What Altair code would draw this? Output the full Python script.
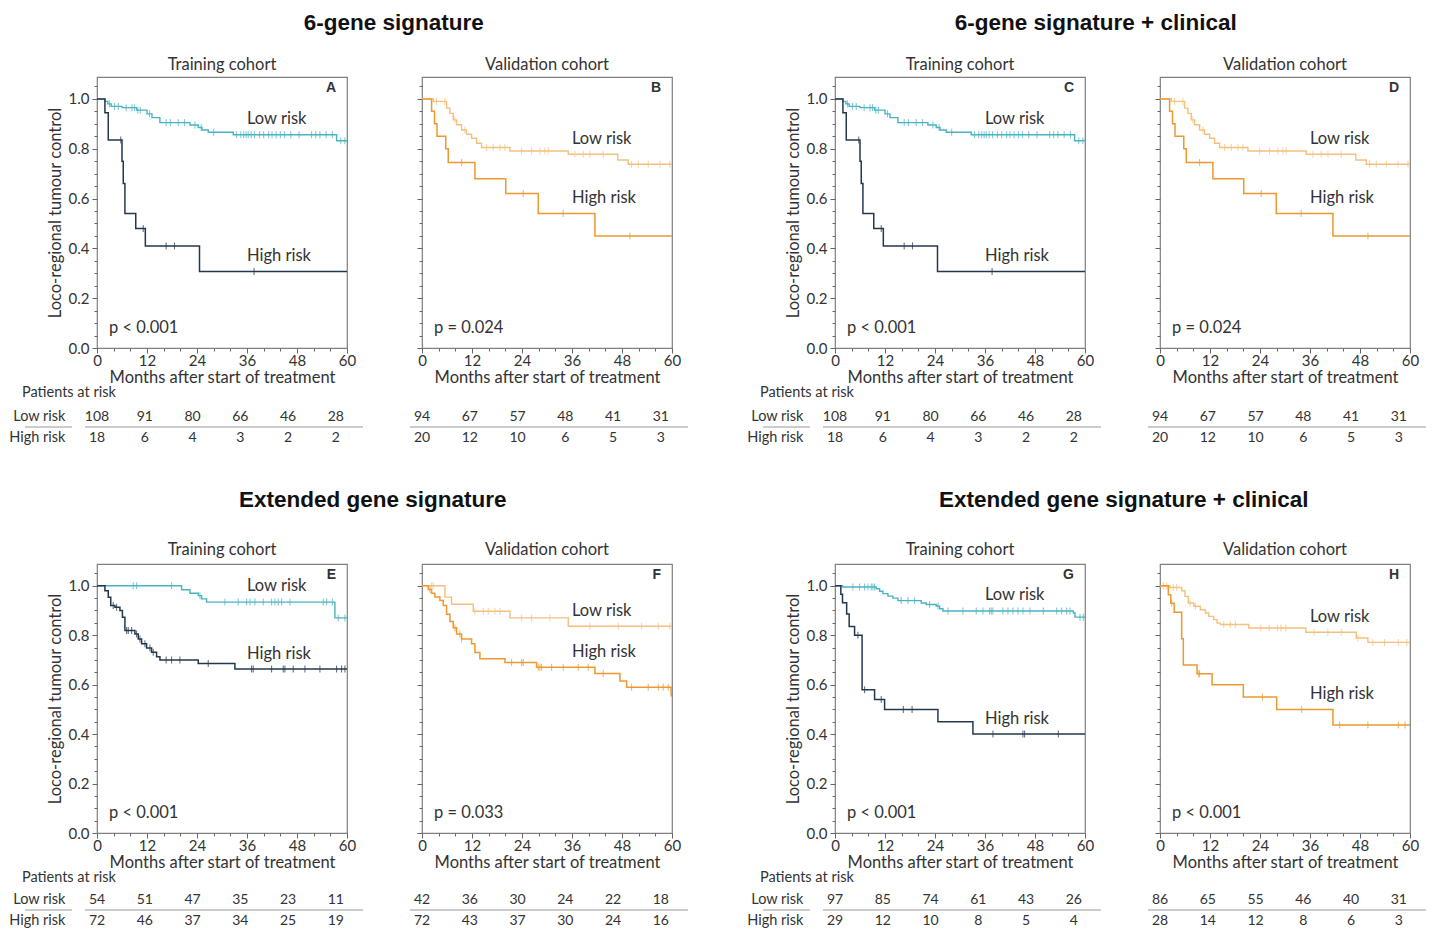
import altair as alt
import pandas as pd

FONT = "Lato"
TITLE_FONT = "Liberation Sans"
TXT = "#333333"
TEAL = "#4ab3c1"
NAVY = "#23384f"
ORANGE = "#eb9930"
LORANGE = "#f4c07e"
TEXT_SIZE = 16.5

# ---------------- data ----------------
RISK_MONTHS = [0, 12, 24, 36, 48, 60]

A_LOW_T = [0, 1.9, 2.6, 3.4, 6.0, 9.5, 12.0, 13.2, 15.1, 22.3, 24.3, 25.2, 26.7, 32.7, 57.5, 60]
A_LOW_S = [1.0, 0.99, 0.98, 0.97, 0.965, 0.955, 0.94, 0.925, 0.905, 0.895, 0.885, 0.875, 0.866, 0.856, 0.832, 0.832]
A_LOW_C = [3.0, 4.2, 5.1, 7.0, 8.4, 9.0, 9.8, 10.4, 12.6, 16.6, 17.6, 19.5, 21.0, 23.5, 25.0, 28.0, 33.5, 34.5,
           35.2, 35.8, 36.3, 37.0, 37.8, 39.0, 40.0, 41.2, 42.0, 43.0, 44.0, 45.0, 46.5, 48.5, 51.5, 52.5, 53.5,
           55.0, 56.5, 58.5, 59.5]
A_HIGH_T = [0, 1.9, 2.7, 6.0, 6.3, 6.7, 9.3, 11.6, 24.6, 60]
A_HIGH_S = [1.0, 0.944, 0.835, 0.75, 0.66, 0.54, 0.48, 0.41, 0.307, 0.307]
A_HIGH_C = [5.7, 11.1, 16.6, 18.6, 37.7]

B_LOW_T = [0, 2.7, 5.9, 6.7, 7.5, 8.3, 9.5, 10.7, 11.9, 13.1, 14.3, 21.1, 35.1, 47.0, 49.5, 60]
B_LOW_S = [1.0, 0.99, 0.963, 0.942, 0.916, 0.896, 0.875, 0.858, 0.842, 0.822, 0.805, 0.791, 0.778, 0.755, 0.738, 0.738]
B_LOW_C = [3.5, 5.5, 7.9, 10.3, 15.5, 17.1, 18.7, 19.9, 23.9, 26.3, 28.3, 29.5, 30.3, 36.7, 38.7, 40.3, 43.5,
           50.3, 51.9, 54.3, 57.1, 59.5]
B_HIGH_T = [0, 2.3, 3.0, 3.6, 5.7, 6.3, 12.7, 20.1, 27.9, 41.5, 60]
B_HIGH_S = [1.0, 0.95, 0.90, 0.85, 0.80, 0.745, 0.68, 0.62, 0.54, 0.45, 0.45]
B_HIGH_C = [9.5, 24.3, 33.9, 49.9]

E_LOW_T = [0, 20.3, 22.3, 24.3, 25.1, 26.3, 57.1, 60]
E_LOW_S = [1.0, 0.984, 0.97, 0.96, 0.947, 0.934, 0.87, 0.87]
E_LOW_C = [8.7, 9.5, 17.9, 24.7, 30.7, 33.9, 35.9, 36.7, 37.9, 39.9, 41.9, 42.7, 43.5, 44.3, 46.3, 54.3, 55.1,
           56.5, 57.9, 59.5]
E_HIGH_T = [0, 1.9, 2.7, 3.3, 4.3, 5.5, 6.1, 6.7, 9.1, 9.9, 10.7, 11.9, 13.1, 14.3, 15.1, 24.3, 33.1, 60]
E_HIGH_S = [1.0, 0.98, 0.954, 0.92, 0.913, 0.90, 0.873, 0.819, 0.805, 0.785, 0.765, 0.748, 0.731, 0.713, 0.70,
            0.686, 0.663, 0.663]
E_HIGH_C = [3.9, 4.7, 7.1, 7.5, 8.3, 9.5, 10.3, 11.5, 12.7, 13.5, 16.6, 17.9, 19.9, 26.7, 37.1, 37.5, 41.9, 44.7,
            45.1, 47.1, 49.9, 53.5, 57.5, 58.7, 59.5]

F_LOW_T = [0, 5.5, 7.1, 12.3, 21.1, 35.1, 60]
F_LOW_S = [1.0, 0.954, 0.925, 0.897, 0.87, 0.836, 0.836]
F_LOW_C = [2.3, 2.7, 12.7, 14.7, 15.9, 17.5, 18.7, 23.9, 26.3, 30.7, 40.3, 47.1, 52.7, 56.7, 59.5]
F_HIGH_T = [0, 1.5, 2.3, 3.1, 4.3, 5.1, 5.9, 6.7, 7.5, 8.3, 9.5, 11.9, 12.7, 13.9, 19.9, 27.5, 41.5, 47.5, 49.1,
            59.8, 60]
F_HIGH_S = [1.0, 0.985, 0.97, 0.955, 0.94, 0.92, 0.885, 0.855, 0.83, 0.805, 0.785, 0.765, 0.73, 0.705, 0.69, 0.67,
            0.645, 0.615, 0.59, 0.555, 0.555]
F_HIGH_C = [1.9, 7.9, 9.1, 9.5, 21.5, 23.9, 24.3, 27.9, 28.3, 28.7, 31.1, 33.9, 37.5, 39.9, 43.5, 50.3, 54.3,
            56.7, 57.9, 59.1]

G_LOW_T = [0, 1.8, 9.9, 10.7, 11.5, 12.7, 13.9, 15.1, 20.7, 21.9, 24.3, 25.1, 25.9, 57.2, 57.6, 60]
G_LOW_S = [1.0, 0.995, 0.988, 0.978, 0.968, 0.958, 0.95, 0.94, 0.93, 0.924, 0.918, 0.907, 0.898, 0.89, 0.873, 0.873]
G_LOW_C = [4.3, 5.9, 7.1, 7.9, 8.7, 9.1, 9.5, 15.9, 17.5, 19.1, 22.7, 24.7, 27.1, 30.7, 33.9, 35.5, 37.1, 37.5,
           37.9, 40.3, 41.5, 42.7, 43.9, 45.1, 46.8, 50.0, 53.2, 54.4, 55.6, 56.4, 58.8, 59.6]
G_HIGH_T = [0, 1.4, 1.8, 2.8, 3.4, 4.7, 6.5, 9.5, 11.9, 24.7, 33.1, 60]
G_HIGH_S = [1.0, 0.966, 0.931, 0.886, 0.835, 0.80, 0.579, 0.54, 0.50, 0.45, 0.40, 0.40]
G_HIGH_C = [5.5, 7.1, 11.1, 16.4, 18.5, 37.9, 45.1, 45.5, 53.6]

H_LOW_T = [0, 2.4, 5.2, 6.0, 6.8, 8.1, 9.7, 10.9, 11.7, 12.9, 13.7, 14.5, 21.3, 35.0, 47.1, 49.9, 60]
H_LOW_S = [1.0, 0.993, 0.98, 0.957, 0.93, 0.917, 0.903, 0.89, 0.876, 0.863, 0.849, 0.843, 0.829, 0.812, 0.789,
           0.771, 0.771]
H_LOW_C = [0.8, 1.6, 3.2, 4.0, 7.2, 8.5, 15.3, 16.9, 18.1, 24.2, 26.2, 28.2, 29.0, 30.2, 37.0, 40.3, 43.5, 47.5,
           51.1, 53.9, 57.2, 59.2]
H_HIGH_T = [0, 2.0, 2.6, 3.4, 5.2, 5.6, 8.9, 12.5, 20.0, 28.0, 41.5, 60]
H_HIGH_S = [1.0, 0.964, 0.929, 0.893, 0.786, 0.68, 0.644, 0.60, 0.55, 0.50, 0.437, 0.437]
H_HIGH_C = [2.8, 9.3, 9.5, 24.6, 34.0, 43.1, 49.9, 57.2, 58.8]

RISK_A_LOW = [108, 91, 80, 66, 46, 28]
RISK_A_HIGH = [18, 6, 4, 3, 2, 2]
RISK_B_LOW = [94, 67, 57, 48, 41, 31]
RISK_B_HIGH = [20, 12, 10, 6, 5, 3]
RISK_E_LOW = [54, 51, 47, 35, 23, 11]
RISK_E_HIGH = [72, 46, 37, 34, 25, 19]
RISK_F_LOW = [42, 36, 30, 24, 22, 18]
RISK_F_HIGH = [72, 43, 37, 30, 24, 16]
RISK_G_LOW = [97, 85, 74, 61, 43, 26]
RISK_G_HIGH = [29, 12, 10, 8, 5, 4]
RISK_H_LOW = [86, 65, 55, 46, 40, 31]
RISK_H_HIGH = [28, 14, 12, 8, 6, 3]

GROUP_TITLES = ["6-gene signature", "6-gene signature + clinical",
                "Extended gene signature", "Extended gene signature + clinical"]
P_VALUES = {"A": "p < 0.001", "B": "p = 0.024", "C": "p < 0.001", "D": "p = 0.024",
            "E": "p < 0.001", "F": "p = 0.033", "G": "p < 0.001", "H": "p < 0.001"}

DUMMY = pd.DataFrame({"k": [0]})

# ---------------- helpers ----------------
def steps_df(t, s):
    return pd.DataFrame({"t": t, "s": s})


def censor_df(ct, t, s):
    ys = []
    for c in ct:
        v = s[0]
        for ti, si in zip(t, s):
            if ti <= c:
                v = si
        ys.append(v)
    return pd.DataFrame({"t": ct, "s": ys})


MAJ_Y = "abs(datum.value*5 - round(datum.value*5)) < 0.001"
MAJ_X = "datum.value % 12 == 0"

X_SCALE = alt.Scale(domain=[0, 60], nice=False, zero=False)
Y_SCALE = alt.Scale(domain=[0, 1.088], nice=False, zero=True)


def x_axis():
    return alt.Axis(values=list(range(0, 61, 4)),
                    labelExpr=f"{MAJ_X} ? datum.label : ''",
                    tickSize={"condition": {"test": MAJ_X, "value": 5}, "value": 3},
                    title="Months after start of treatment",
                    labelFont=FONT, labelFontSize=15, labelColor=TXT,
                    titleFont=FONT, titleFontSize=TEXT_SIZE, titleFontWeight="normal", titleColor=TXT,
                    tickColor="#666666", domain=False, grid=False, labelPadding=0, titlePadding=1,
                    labelOverlap=False, labelFlush=False)


def y_axis(left):
    vals = [round(i * 0.05, 2) for i in range(22)]
    common = dict(values=vals,
                  tickSize={"condition": {"test": MAJ_Y, "value": 5}, "value": 3},
                  tickColor="#666666", domain=False, grid=False)
    if left:
        return alt.Axis(labelExpr=f"{MAJ_Y} ? format(datum.value, '.1f') : ''",
                        title="Loco-regional tumour control",
                        labelFont=FONT, labelFontSize=15, labelColor=TXT, labelPadding=3,
                        titleFont=FONT, titleFontSize=TEXT_SIZE, titleFontWeight="normal", titleColor=TXT,
                        titlePadding=5, labelOverlap=False, labelFlush=False, **common)
    return alt.Axis(labels=False, title=None, **common)


def text_layer(txt, x, y, align="left", size=TEXT_SIZE, weight="normal", font=FONT):
    return alt.Chart(DUMMY).mark_text(align=align, baseline="middle", font=font, fontSize=size,
                                      fontWeight=weight, color=TXT).encode(
        x=alt.value(x), y=alt.value(y), text=alt.value(txt))


def km_panel(low, high, low_color, high_color, letter, low_y, high_y, subtitle, left, sub_offset, height):
    layers = []
    for (t, s, c), color, w in ((low, low_color, 1.4), (high, high_color, 1.5)):
        enc = dict(x=alt.X("t:Q", scale=X_SCALE, axis=x_axis()),
                   y=alt.Y("s:Q", scale=Y_SCALE, axis=y_axis(left)))
        layers.append(alt.Chart(steps_df(t, s)).mark_line(
            interpolate="step-after", color=color, strokeWidth=w).encode(**enc))
        layers.append(alt.Chart(censor_df(c, t, s)).mark_tick(
            orient="vertical", size=7, thickness=1.1, color=color).encode(**enc))
    layers.append(text_layer("Low risk", 150, low_y))
    layers.append(text_layer("High risk", 150, high_y))
    layers.append(text_layer(P_VALUES[letter], 12, height - 20))
    layers.append(text_layer(letter, 239, 11, align="right", size=14, weight="bold", font=TITLE_FONT))
    return alt.layer(*layers).properties(
        width=250, height=height,
        title=alt.TitleParams(subtitle, font=FONT, fontSize=TEXT_SIZE, fontWeight="normal",
                              color=TXT, offset=sub_offset, anchor="middle", frame="group"))


def risk_table(low_n, high_n, left, title_offset):
    df = pd.DataFrame({
        "t": RISK_MONTHS + RISK_MONTHS,
        "row": ["Low risk"] * 6 + ["High risk"] * 6,
        "n": low_n + high_n,
    })
    yax = (alt.Axis(title=None, domain=False, ticks=False, labelFont=FONT, labelFontSize=14.5,
                    labelColor=TXT, labelPadding=32) if left else None)
    txt = alt.Chart(df).mark_text(font=FONT, fontSize=14, color=TXT, baseline="middle").encode(
        x=alt.X("t:Q", scale=alt.Scale(domain=[0, 62.8], nice=False, zero=False), axis=None),
        y=alt.Y("row:N", scale=alt.Scale(type="point", domain=["Low risk", "High risk"], padding=0.5),
                axis=yax),
        text="n:Q")
    rules = [alt.Chart(DUMMY).mark_rule(color="#999999", strokeWidth=1.2).encode(
        x=alt.value(-12), x2=alt.value(266), y=alt.value(21))]
    if left:
        rules.append(alt.Chart(DUMMY).mark_rule(color="#999999", strokeWidth=1.2).encode(
            x=alt.value(-72), x2=alt.value(-25), y=alt.value(21)))
    ch = alt.layer(txt, *rules).properties(width=250, height=42,
                                          view=alt.ViewBackground(stroke="transparent"))
    if left:
        ch = ch.properties(title=alt.TitleParams("Patients at risk", anchor="start", dx=-75,
                                                 frame="group", font=FONT, fontSize=14.5,
                                                 fontWeight="normal", color=TXT, offset=title_offset))
    return ch


def group(title, train, val, train_tab, val_tab, letters, ys, title_offset, title_dx, sub_offset,
          height, tab_offset):
    p1 = km_panel(train[0], train[1], TEAL, NAVY, letters[0], ys[0], ys[1], "Training cohort", True,
                  sub_offset, height)
    p2 = km_panel(val[0], val[1], LORANGE, ORANGE, letters[1], ys[2], ys[3], "Validation cohort", False,
                  sub_offset, height)
    t1 = risk_table(train_tab[0], train_tab[1], True, tab_offset)
    t2 = risk_table(val_tab[0], val_tab[1], False, tab_offset)
    return alt.concat(p1, p2, t1, t2, columns=2, align="each",
                      spacing=alt.RowColnumber(row=-4, column=43)).properties(
        title=alt.TitleParams(title, font=TITLE_FONT, fontSize=22.5, fontWeight="bold",
                              color="#111111", offset=title_offset, anchor="middle", dx=title_dx))


A_LOW = (A_LOW_T, A_LOW_S, A_LOW_C)
A_HIGH = (A_HIGH_T, A_HIGH_S, A_HIGH_C)
B_LOW = (B_LOW_T, B_LOW_S, B_LOW_C)
B_HIGH = (B_HIGH_T, B_HIGH_S, B_HIGH_C)

g1 = group(GROUP_TITLES[0], (A_LOW, A_HIGH), (B_LOW, B_HIGH),
           (RISK_A_LOW, RISK_A_HIGH), (RISK_B_LOW, RISK_B_HIGH), "AB", (42, 179, 62, 121), 21, 45, 4,
           271, 6)
g2 = group(GROUP_TITLES[1], (A_LOW, A_HIGH), (B_LOW, B_HIGH),
           (RISK_A_LOW, RISK_A_HIGH), (RISK_B_LOW, RISK_B_HIGH), "CD", (42, 179, 62, 121), 21, 9, 4,
           271, 6)
g3 = group(GROUP_TITLES[2],
           ((E_LOW_T, E_LOW_S, E_LOW_C), (E_HIGH_T, E_HIGH_S, E_HIGH_C)),
           ((F_LOW_T, F_LOW_S, F_LOW_C), (F_HIGH_T, F_HIGH_S, F_HIGH_C)),
           (RISK_E_LOW, RISK_E_HIGH), (RISK_F_LOW, RISK_F_HIGH), "EF", (22, 90, 47, 88), 29, 24, 6,
           269, 4)
g4 = group(GROUP_TITLES[3],
           ((G_LOW_T, G_LOW_S, G_LOW_C), (G_HIGH_T, G_HIGH_S, G_HIGH_C)),
           ((H_LOW_T, H_LOW_S, H_LOW_C), (H_HIGH_T, H_HIGH_S, H_HIGH_C)),
           (RISK_G_LOW, RISK_G_HIGH), (RISK_H_LOW, RISK_H_HIGH), "GH", (31, 155, 53, 130), 29, 37, 6,
           269, 4)

chart = alt.vconcat(
    alt.hconcat(g1, g2, spacing=56),
    alt.hconcat(g3, g4, spacing=56),
    spacing=40,
).properties(
    padding={"left": 8, "top": 12, "right": 0, "bottom": 0},
).configure(background="white").configure_view(stroke="#7f7f7f", strokeWidth=1.2)

chart.save("out.html", embed_options={"renderer": "svg", "actions": False})
